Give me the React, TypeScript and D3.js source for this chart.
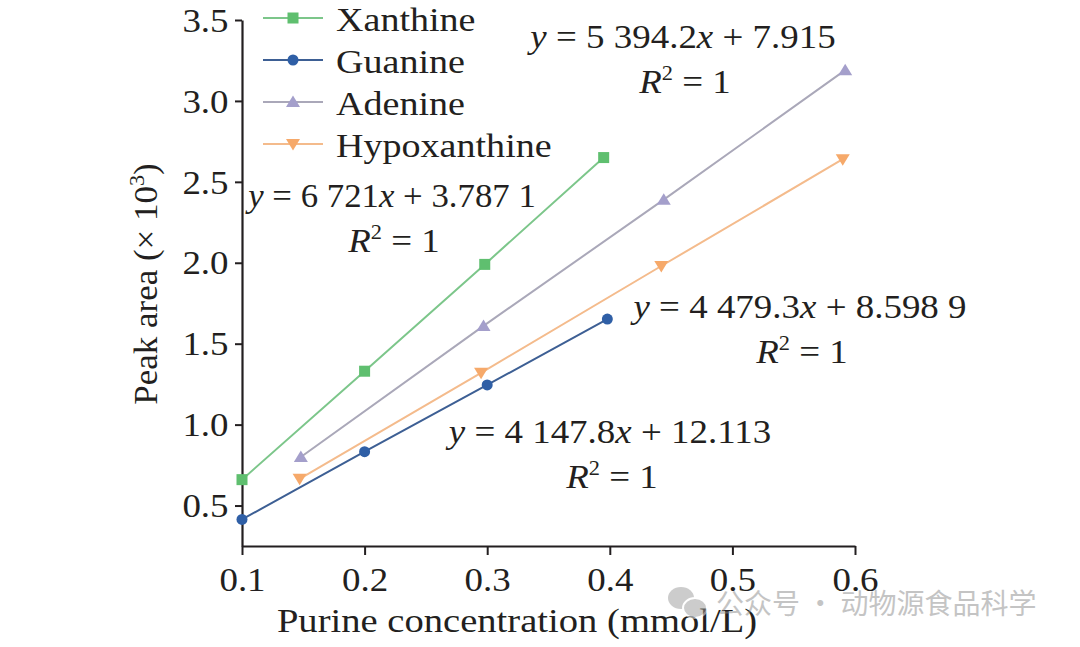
import React, { useEffect, useRef } from 'react';
import * as d3 from 'd3';

interface Point {
  x: number;
  y: number;
}

// Purine standard curves (x: mmol/L, y: peak area × 10^3)
const xanthineX = [0.1, 0.2, 0.298, 0.395];
const xanthineY = [0.66, 1.33, 1.99, 2.65];
const guanineX = [0.1, 0.2, 0.3, 0.398];
const guanineY = [0.414, 0.833, 1.245, 1.652];
const adenineX = [0.148, 0.297, 0.444, 0.592];
const adenineY = [0.8, 1.61, 2.39, 3.19];
const hypoxanthineX = [0.147, 0.295, 0.442, 0.59];
const hypoxanthineY = [0.665, 1.32, 1.98, 2.64];

const seriesNames = ['Xanthine', 'Guanine', 'Adenine', 'Hypoxanthine'];
const xTicks = [0.1, 0.2, 0.3, 0.4, 0.5, 0.6];
const yTicks = [0.5, 1.0, 1.5, 2.0, 2.5, 3.0, 3.5];

// regression fits: [slope, intercept] as printed
const fitSlopes = ['6 721', '5 394.2', '4 479.3', '4 147.8'];
const fitIntercepts = ['3.787 1', '7.915', '8.598 9', '12.113'];

const App: React.FC = () => {
  const svgRef = useRef<SVGSVGElement>(null);

  useEffect(() => {
    const svg = d3.select(svgRef.current);
    svg.selectAll('*').remove();

    const font = '"Liberation Serif", "Times New Roman", serif';
    const ink = '#231f20';
    const fs = 33;
    const stretch = 1.12; // the glyphs in the original are a bit wider than Times

    const xScale = d3.scaleLinear().domain([0.1, 0.6]).range([242, 855]);
    const yScale = d3.scaleLinear().domain([0.25, 3.5]).range([546, 20]);

    const series = [
      { name: seriesNames[0], xs: xanthineX, ys: xanthineY, line: '#7cc68a', fill: '#5fbf6f', shape: 'square' },
      { name: seriesNames[1], xs: guanineX, ys: guanineY, line: '#3d5f94', fill: '#2f5fa6', shape: 'circle' },
      { name: seriesNames[2], xs: adenineX, ys: adenineY, line: '#aaa8b9', fill: '#a49fcb', shape: 'up' },
      { name: seriesNames[3], xs: hypoxanthineX, ys: hypoxanthineY, line: '#f4bb8c', fill: '#f6a96a', shape: 'down' },
    ];

    const drawMarker = (
      g: d3.Selection<SVGGElement, unknown, null, undefined>,
      shape: string,
      cx: number,
      cy: number,
      fill: string
    ) => {
      if (shape === 'square') {
        g.append('rect').attr('x', cx - 5.5).attr('y', cy - 5.5)
          .attr('width', 11).attr('height', 11).attr('fill', fill);
      } else if (shape === 'circle') {
        g.append('circle').attr('cx', cx).attr('cy', cy).attr('r', 5.5).attr('fill', fill);
      } else if (shape === 'up') {
        g.append('path')
          .attr('d', `M${cx},${cy - 6.5}L${cx + 7},${cy + 5}L${cx - 7},${cy + 5}Z`)
          .attr('fill', fill);
      } else {
        g.append('path')
          .attr('d', `M${cx},${cy + 6.5}L${cx + 7},${cy - 5}L${cx - 7},${cy - 5}Z`)
          .attr('fill', fill);
      }
    };

    // text placed at (x, y) and widened horizontally
    const label = (x: number, y: number, anchor: string, size = fs, sx = stretch) =>
      svg.append('g')
        .attr('transform', `translate(${x},${y}) scale(${sx},1)`)
        .append('text')
        .attr('text-anchor', anchor)
        .attr('fill', ink)
        .style('font-family', font)
        .style('font-size', `${size}px`);

    // Axes
    const yAxis = svg.append('g')
      .attr('transform', `translate(${xScale(0.1)},0)`)
      .call(d3.axisLeft(yScale).tickValues(yTicks).tickSize(7).tickSizeOuter(0)
        .tickFormat(d => d3.format('.1f')(d as number)));
    const xAxis = svg.append('g')
      .attr('transform', `translate(0,${yScale(0.25)})`)
      .call(d3.axisBottom(xScale).tickValues(xTicks).tickSize(9).tickSizeOuter(0)
        .tickFormat(d => d3.format('.1f')(d as number)));

    [xAxis, yAxis].forEach(ax => {
      ax.select('.domain').attr('stroke', ink).attr('stroke-width', 2.2);
      ax.selectAll('.tick line').attr('stroke', ink).attr('stroke-width', 2);
      ax.selectAll('.tick text')
        .attr('fill', ink)
        .attr('transform', `scale(${stretch},1)`)
        .style('font-family', font)
        .style('font-size', `${fs}px`);
    });
    yAxis.selectAll('.tick text').attr('x', -12).attr('dy', '0.34em');
    xAxis.selectAll('.tick text').attr('y', 45).attr('dy', 0);

    // Axis titles
    const yTitle = svg.append('g')
      .attr('transform', `translate(157,284) rotate(-90) scale(1.06,1)`)
      .append('text')
      .attr('text-anchor', 'middle')
      .attr('fill', ink)
      .style('font-family', font)
      .style('font-size', `${fs}px`);
    yTitle.append('tspan').text('Peak area (× 10');
    yTitle.append('tspan').attr('dy', -13).style('font-size', '21px').text('3');
    yTitle.append('tspan').attr('dy', 13).text(')');

    svg.append('g')
      .attr('transform', `translate(517,632) scale(1.17,1)`)
      .append('text')
      .attr('text-anchor', 'middle')
      .attr('fill', ink)
      .style('font-family', font)
      .style('font-size', `${fs}px`)
      .text('Purine concentration (mmol/L)');

    // Lines and markers
    series.forEach(s => {
      const pts: Point[] = s.xs.map((x, i) => ({ x, y: s.ys[i] }));
      svg.append('path')
        .datum(pts)
        .attr('fill', 'none')
        .attr('stroke', s.line)
        .attr('stroke-width', 2)
        .attr('d', d3.line<Point>().x(d => xScale(d.x)).y(d => yScale(d.y)));
      const mg = svg.append('g');
      pts.forEach(p => drawMarker(mg, s.shape, xScale(p.x), yScale(p.y), s.fill));
    });

    // Legend
    const legend = svg.append('g');
    series.forEach((s, i) => {
      const cy = 18 + i * 42;
      legend.append('line')
        .attr('x1', 263).attr('x2', 323).attr('y1', cy).attr('y2', cy)
        .attr('stroke', s.line).attr('stroke-width', 2);
      drawMarker(legend, s.shape, 293, cy, s.fill);
      label(336, cy + 13, 'start', 34).text(s.name);
    });

    // Regression equations (centre x, baseline y of the first line, width factor)
    const eqPos = [[392, 207, 1.055], [683, 48, 1.12], [800, 318, 1.12], [610, 443, 1.12]];
    fitSlopes.forEach((slope, i) => {
      const [cx, by, sx] = eqPos[i];
      const t = label(cx, by, 'middle', fs, sx);
      t.append('tspan').style('font-style', 'italic').text('y');
      t.append('tspan').text(` = ${slope}`);
      t.append('tspan').style('font-style', 'italic').text('x');
      t.append('tspan').text(` + ${fitIntercepts[i]}`);

      const r = label(cx + 2, by + 45, 'middle');
      r.append('tspan').style('font-style', 'italic').text('R');
      r.append('tspan').attr('dy', -13).style('font-size', '20px').text('2');
      r.append('tspan').attr('dy', 13).text(' = 1');
    });

    // Watermark
    const wm = svg.append('g').attr('opacity', 0.5);
    wm.append('ellipse').attr('cx', 681).attr('cy', 598).attr('rx', 13).attr('ry', 11).attr('fill', '#9a9a9a');
    wm.append('ellipse').attr('cx', 695).attr('cy', 608).attr('rx', 12).attr('ry', 10).attr('fill', '#9a9a9a')
      .attr('stroke', '#fff').attr('stroke-width', 2);
    wm.append('text')
      .attr('x', 716).attr('y', 614)
      .attr('fill', '#8a8a8a')
      .style('font-family', '"Noto Sans CJK SC", sans-serif')
      .style('font-size', '28px')
      .text('公众号 · 动物源食品科学');
  }, []);

  return (
    <svg
      ref={svgRef}
      width={1080}
      height={647}
      style={{ position: 'absolute', left: 0, top: 0, background: '#fff' }}
    />
  );
};

export default App;
